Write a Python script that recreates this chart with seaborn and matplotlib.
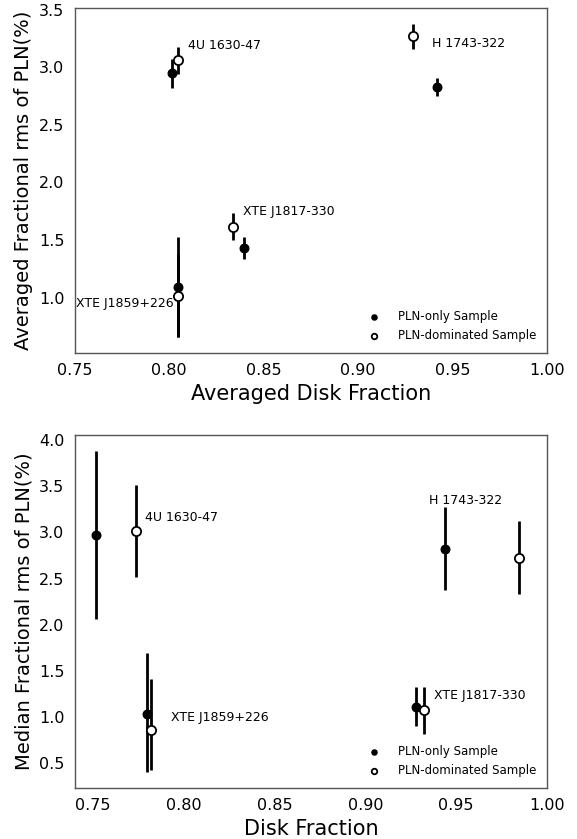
import numpy as np
import pandas as pd
import matplotlib
matplotlib.use("Agg")
import matplotlib.pyplot as plt
import seaborn as sns

sources = ["4U 1630-47", "XTE J1817-330", "XTE J1859+226", "H 1743-322"]

# averaged values (top panel)
avgOnlyX = [0.8015, 0.8394, 0.8047, 0.9416]
avgOnlyY = [2.95, 1.43, 1.09, 2.83]
avgOnlyErr = [0.125, 0.095, 0.435, 0.075]
avgDomX = [0.8047, 0.8340, 0.8047, 0.9289]
avgDomY = [3.06, 1.615, 1.015, 3.27]
avgDomErr = [0.12, 0.117, 0.36, 0.11]

# median values (bottom panel)
medOnlyX = [0.7516, 0.9279, 0.7800, 0.9438]
medOnlyY = [2.97, 1.11, 1.03, 2.82]
medOnlyLo = [0.91, 0.21, 0.62, 0.44]
medOnlyHi = [0.91, 0.22, 0.66, 0.45]
medDomX = [0.7738, 0.9323, 0.7821, 0.9844]
medDomY = [3.02, 1.08, 0.86, 2.72]
medDomLo = [0.50, 0.26, 0.43, 0.39]
medDomHi = [0.49, 0.25, 0.55, 0.40]

# label anchors
avgLabelX = [0.8098, 0.8393, 0.7508, 0.9393]
avgLabelY = [3.19, 1.75, 0.95, 3.21]
medLabelX = [0.7788, 0.9376, 0.7929, 0.9349]
medLabelY = [3.16, 1.23, 1.00, 3.34]

spineColor = "#555555"


def styleAxes(ax):
    for s in ax.spines.values():
        s.set_color(spineColor)
        s.set_linewidth(1.0)
    ax.tick_params(direction="out", length=4, color=spineColor, labelsize=11.5, labelcolor="black")


def drawPanel(ax, onlyX, onlyY, onlyErr, domX, domY, domErr, labelX, labelY):
    ax.errorbar(onlyX, onlyY, yerr=onlyErr, fmt="none", ecolor="black", elinewidth=2, capsize=0, zorder=2)
    sns.scatterplot(x=onlyX, y=onlyY, ax=ax, color="black", edgecolor="black", s=38, linewidth=1,
                    label="PLN-only Sample", zorder=3)
    ax.errorbar(domX, domY, yerr=domErr, fmt="none", ecolor="black", elinewidth=2, capsize=0, zorder=4)
    sns.scatterplot(x=domX, y=domY, ax=ax, color="white", edgecolor="black", s=44, linewidth=1.3,
                    label="PLN-dominated Sample", zorder=5)
    for name, lx, ly in zip(sources, labelX, labelY):
        ax.text(lx, ly, name, fontsize=9, va="center", ha="left", color="black")
    ax.legend(loc="lower right", frameon=False, fontsize=8.5, markerscale=0.6, handletextpad=1.0,
              labelcolor="black", borderaxespad=0.5)
    styleAxes(ax)


sns.set_style("white")
plt.rcParams['font.family'] = ['DejaVu Sans']
plt.rcParams['text.color'] = 'black'
plt.rcParams['axes.labelcolor'] = 'black'

fig = plt.figure(figsize=(5.77, 8.39), dpi=100)
ax1 = fig.add_axes([0.1295, 0.5793, 0.8185, 0.4112])
ax2 = fig.add_axes([0.1295, 0.0611, 0.8185, 0.4204])

drawPanel(ax1, avgOnlyX, avgOnlyY, avgOnlyErr, avgDomX, avgDomY, avgDomErr, avgLabelX, avgLabelY)
ax1.set_xlim(0.75, 1.00)
ax1.set_xticks([0.75, 0.80, 0.85, 0.90, 0.95, 1.00])
ax1.set_yticks([1.0, 1.5, 2.0, 2.5, 3.0, 3.5])
ax1.set_xlabel("Averaged Disk Fraction", fontsize=15)
ax1.set_ylabel("Averaged Fractional rms of PLN(%)", fontsize=14)

drawPanel(ax2, medOnlyX, medOnlyY, [medOnlyLo, medOnlyHi], medDomX, medDomY, [medDomLo, medDomHi],
          medLabelX, medLabelY)
ax2.set_xlim(0.74, 1.00)
ax2.set_xticks([0.75, 0.80, 0.85, 0.90, 0.95, 1.00])
ax2.set_yticks([0.5, 1.0, 1.5, 2.0, 2.5, 3.0, 3.5, 4.0])
ax2.set_xlabel("Disk Fraction", fontsize=15)
ax2.set_ylabel("Median Fractional rms of PLN(%)", fontsize=14)

fig.savefig("out.png", dpi=100)
